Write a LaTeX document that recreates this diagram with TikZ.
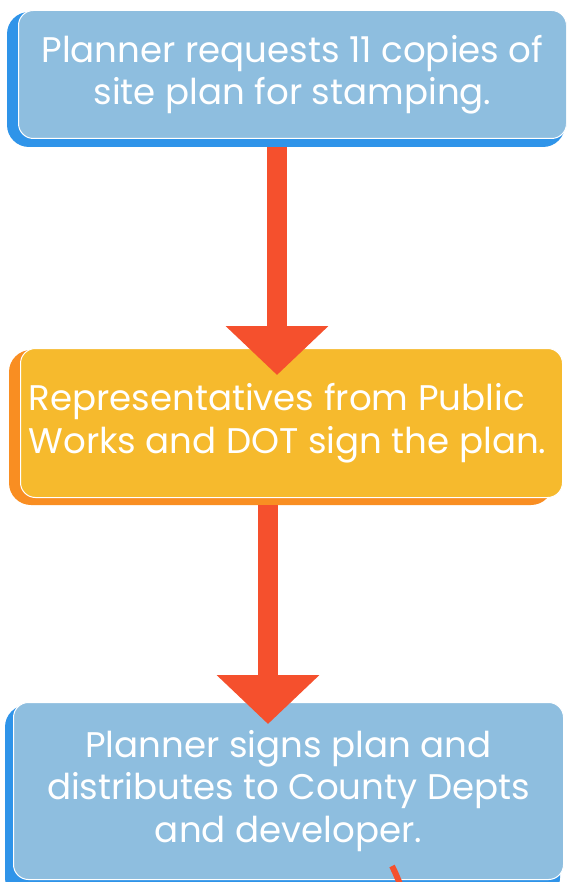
\documentclass[tikz,border=0pt]{standalone}
\usepackage{fontspec}
\setmainfont{Poppins}
\usetikzlibrary{arrows.meta}
\definecolor{boxblue}{HTML}{8EBEDF}
\definecolor{shblue}{HTML}{2F94E9}
\definecolor{boxyellow}{HTML}{F6BA2D}
\definecolor{shorange}{HTML}{F98E22}
\definecolor{arrred}{HTML}{F5502D}
\tikzset{
  mainbox/.style={draw=white, line width=1pt, rounded corners=15pt, anchor=north west,
    inner sep=0pt, font=\fontsize{35.6}{42.5}\selectfont, text=white},
  shadowbox/.style={rounded corners=22pt},
  flowarrow/.style={draw=arrred, line width=20pt,
    -{Triangle[width=100pt,length=49pt]}},
}
\begin{document}
\begin{tikzpicture}[x=1pt,y=-1pt]
\useasboundingbox (0,0) rectangle (566,882);
\clip (0,0) rectangle (566,882);
% shadows
\fill[shblue, shadowbox] (7,12) rectangle (565,147);
\fill[shorange, shadowbox] (9,350) rectangle (553,505);
\fill[shblue, shadowbox] (5,705) rectangle (560,900);
% boxes
\node[mainbox, fill=boxblue, minimum width=548pt, minimum height=128pt, align=center] (top) at (18,10)
  {Planner requests 11 copies of\\site plan for stamping.};
\node[mainbox, fill=boxyellow, minimum width=542pt, minimum height=149pt, align=left] (mid) at (20,348)
  {Representatives from Public\\Works and DOT sign the plan.\hspace*{8pt}};
\node[mainbox, fill=boxblue, minimum width=550pt, minimum height=177pt, align=center] (bot) at (13,702)
  {Planner signs plan and\\distributes to County Depts\\and developer.};
% arrows
\coordinate (a1s) at (277,147);
\coordinate (a1e) at (277,375);
\coordinate (a2s) at (268,505);
\coordinate (a2e) at (268,724);
\draw[flowarrow] (a1s) -- (a1e);
\draw[flowarrow] (a2s) -- (a2e);
\coordinate (a3s) at (392,866);
\coordinate (a3e) at (400,884);
\draw[arrred, line width=6pt] (a3s) .. controls (395,872) .. (a3e);
\end{tikzpicture}
\end{document}
